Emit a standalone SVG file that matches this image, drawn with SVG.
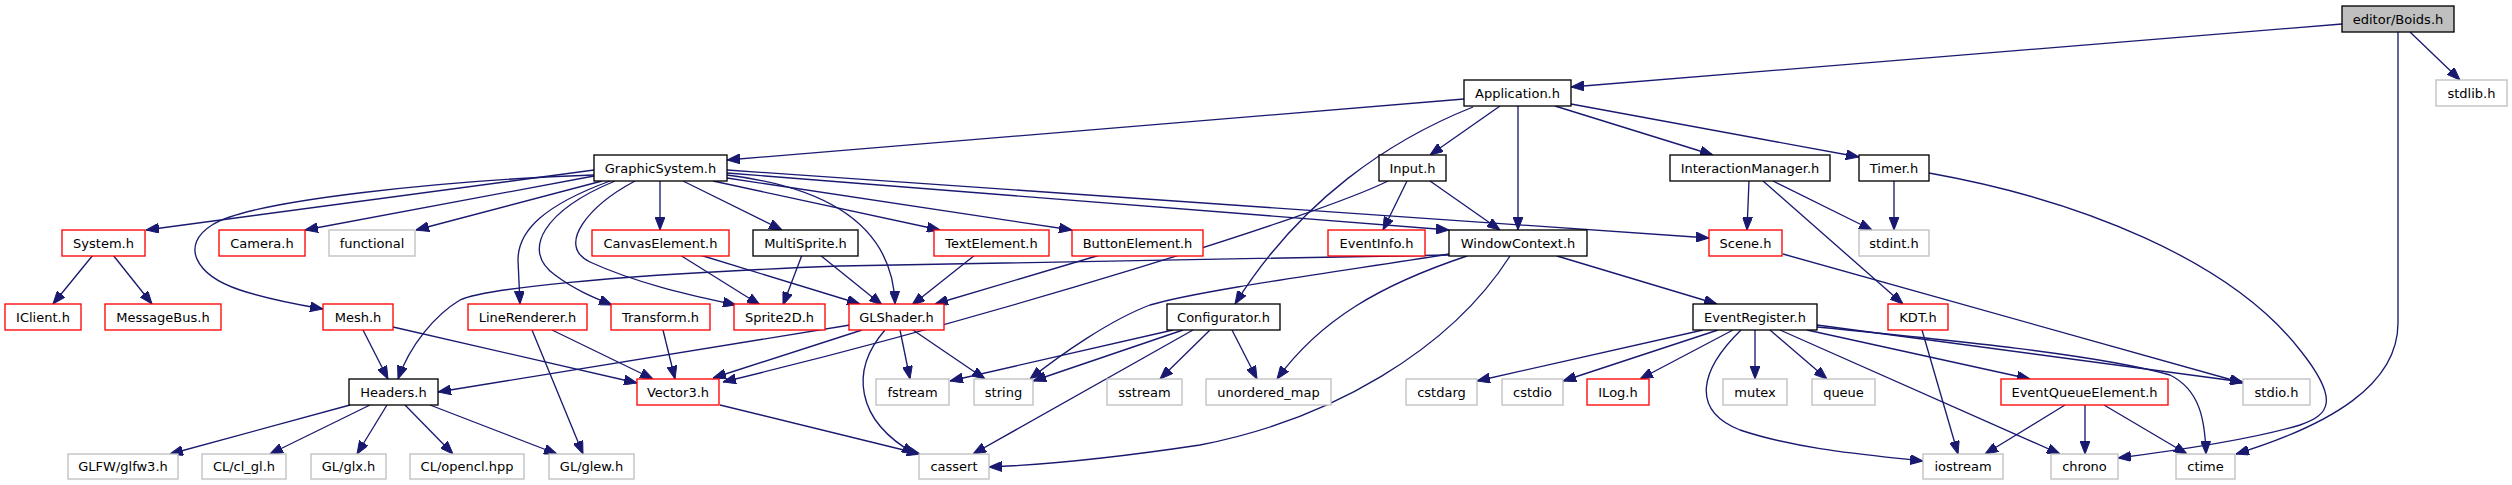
<svg xmlns="http://www.w3.org/2000/svg" width="2512" height="485" viewBox="0 0 2512 485">
<style>
rect{fill:#ffffff;stroke-width:1.33}
.k rect{stroke:#000000}
.r rect{stroke:#ff0000}
.g rect{stroke:#bfbfbf}
.s rect{stroke:#000000;fill:#bfbfbf}
text{font-family:"DejaVu Sans","Liberation Sans",sans-serif;font-size:13px;text-anchor:middle;fill:#000000}
#edges path{fill:none;stroke:#191970;stroke-width:1.33;marker-end:url(#ah)}
</style>
<defs>
<marker id="ah" markerUnits="userSpaceOnUse" viewBox="0 0 13 10" refX="13" refY="5" markerWidth="13" markerHeight="10" orient="auto">
<path d="M0,0 L13,5 L0,10 z" fill="#191970" stroke="#191970" stroke-width="1"/>
</marker>
</defs>
<rect x="0" y="0" width="2512" height="485" style="fill:#ffffff;stroke:none"/>
<g id="edges">
<path d="M2342,24 L1571,87"/>
<path d="M2410,32 L2460,80"/>
<path d="M2398,32 L2398,323 C2398,385 2330,425 2236,454"/>
<path d="M1464,99 L727,160"/>
<path d="M1500,106 L1430,155"/>
<path d="M1518,106 L1518,230"/>
<path d="M1555,106 L1713,155"/>
<path d="M1571,104 L1859,157"/>
<path d="M1473,107 C1390,140 1300,200 1235,304"/>
<path d="M727,170 L1709,238"/>
<path d="M727,173 L1449,230"/>
<path d="M713,181 L940,230"/>
<path d="M727,178 L1072,230"/>
<path d="M727,175 C850,190 893,240 895,304"/>
<path d="M660,181 L660,230"/>
<path d="M683,181 L782,230"/>
<path d="M635,181 C590,205 555,245 590,262 C640,285 700,297 736,305"/>
<path d="M615,181 C545,210 520,250 555,275 C575,290 595,298 612,305"/>
<path d="M610,181 C545,205 518,230 518,260 L520,304"/>
<path d="M594,175 C450,180 250,200 212,225 C180,245 195,275 240,290 C270,300 300,305 323,309"/>
<path d="M594,170 L146,230"/>
<path d="M594,176 L305,230"/>
<path d="M602,181 L416,230"/>
<path d="M93,255 L53,304"/>
<path d="M113,255 L152,304"/>
<path d="M1407,181 L1383,230"/>
<path d="M1430,181 L1500,230"/>
<path d="M1388,181 C1320,215 1000,315 723,382"/>
<path d="M1749,181 L1747,230"/>
<path d="M1763,181 L1903,304"/>
<path d="M1773,181 L1872,230"/>
<path d="M1894,181 L1894,230"/>
<path d="M1929,173 C2080,200 2230,260 2300,350 C2340,400 2330,415 2300,425 C2250,440 2180,450 2118,458"/>
<path d="M1783,254 L2243,383"/>
<path d="M1557,256 L1717,304"/>
<path d="M1467,256 C1380,285 1320,320 1277,379"/>
<path d="M1449,254 C1350,270 1200,290 1150,305 C1110,320 1060,355 1030,379"/>
<path d="M1510,256 C1450,350 1330,420 1200,445 C1100,460 1040,465 989,467"/>
<path d="M1449,255 L840,266 C600,275 480,290 460,300 C435,315 410,345 398,379"/>
<path d="M700,255 L860,304"/>
<path d="M680,255 L760,305"/>
<path d="M802,255 L783,305"/>
<path d="M820,255 L882,305"/>
<path d="M975,255 L912,305"/>
<path d="M1100,255 L935,304"/>
<path d="M363,330 L388,379"/>
<path d="M393,327 L637,383"/>
<path d="M552,330 L653,379"/>
<path d="M532,330 L583,454"/>
<path d="M663,330 L675,379"/>
<path d="M850,325 L438,392"/>
<path d="M862,330 L713,378"/>
<path d="M900,330 L910,379"/>
<path d="M913,330 L985,379"/>
<path d="M885,330 C850,370 855,420 915,454"/>
<path d="M1173,330 L950,381"/>
<path d="M1183,330 L1033,381"/>
<path d="M1210,330 L1160,379"/>
<path d="M1232,330 L1257,379"/>
<path d="M1193,330 L973,454"/>
<path d="M720,405 L920,454"/>
<path d="M350,405 L170,454"/>
<path d="M370,405 L270,454"/>
<path d="M387,405 L357,454"/>
<path d="M405,405 L453,454"/>
<path d="M430,405 L557,454"/>
<path d="M1703,330 L1477,381"/>
<path d="M1718,330 L1563,381"/>
<path d="M1733,330 L1640,379"/>
<path d="M1755,330 L1755,379"/>
<path d="M1770,330 L1827,379"/>
<path d="M1807,330 L2030,379"/>
<path d="M1780,330 L2060,454"/>
<path d="M1741,330 C1700,370 1690,410 1740,430 C1800,450 1870,455 1923,461"/>
<path d="M1817,325 L2243,382"/>
<path d="M1817,327 C1950,340 2100,355 2170,375 C2200,390 2205,420 2206,454"/>
<path d="M1922,330 L1958,454"/>
<path d="M2065,405 L1985,454"/>
<path d="M2085,405 L2085,454"/>
<path d="M2104,405 L2187,454"/>
</g>
<g id="n_boids" class="s"><rect x="2342" y="6" width="112" height="26"/><text x="2398" y="23.5">editor/Boids.h</text></g>
<g id="n_stdlib" class="g"><rect x="2436" y="80" width="71" height="26"/><text x="2471.5" y="97.5">stdlib.h</text></g>
<g id="n_application" class="k"><rect x="1464" y="80" width="107" height="26"/><text x="1517.5" y="97.5">Application.h</text></g>
<g id="n_graphicsystem" class="k"><rect x="594" y="155" width="133" height="26"/><text x="660.5" y="172.5">GraphicSystem.h</text></g>
<g id="n_input" class="k"><rect x="1379" y="155" width="67" height="26"/><text x="1412.5" y="172.5">Input.h</text></g>
<g id="n_interactionmanager" class="k"><rect x="1670" y="155" width="160" height="26"/><text x="1750" y="172.5">InteractionManager.h</text></g>
<g id="n_timer" class="k"><rect x="1859" y="155" width="70" height="26"/><text x="1894" y="172.5">Timer.h</text></g>
<g id="n_system" class="r"><rect x="62" y="230" width="83" height="26"/><text x="103.5" y="247.5">System.h</text></g>
<g id="n_camera" class="r"><rect x="219" y="230" width="86" height="26"/><text x="262" y="247.5">Camera.h</text></g>
<g id="n_functional" class="g"><rect x="329" y="230" width="86" height="26"/><text x="372" y="247.5">functional</text></g>
<g id="n_canvaselement" class="r"><rect x="592" y="230" width="137" height="26"/><text x="660.5" y="247.5">CanvasElement.h</text></g>
<g id="n_multisprite" class="k"><rect x="753" y="230" width="105" height="26"/><text x="805.5" y="247.5">MultiSprite.h</text></g>
<g id="n_textelement" class="r"><rect x="934" y="230" width="115" height="26"/><text x="991.5" y="247.5">TextElement.h</text></g>
<g id="n_buttonelement" class="r"><rect x="1072" y="230" width="131" height="26"/><text x="1137.5" y="247.5">ButtonElement.h</text></g>
<g id="n_eventinfo" class="r"><rect x="1328" y="230" width="97" height="26"/><text x="1376.5" y="247.5">EventInfo.h</text></g>
<g id="n_windowcontext" class="k"><rect x="1449" y="230" width="138" height="26"/><text x="1518" y="247.5">WindowContext.h</text></g>
<g id="n_scene" class="r"><rect x="1709" y="230" width="73" height="26"/><text x="1745.5" y="247.5">Scene.h</text></g>
<g id="n_stdint" class="g"><rect x="1859" y="230" width="70" height="26"/><text x="1894" y="247.5">stdint.h</text></g>
<g id="n_iclient" class="r"><rect x="5" y="304" width="76" height="26"/><text x="43" y="321.5">IClient.h</text></g>
<g id="n_messagebus" class="r"><rect x="105" y="304" width="116" height="26"/><text x="163" y="321.5">MessageBus.h</text></g>
<g id="n_mesh" class="r"><rect x="323" y="304" width="70" height="26"/><text x="358" y="321.5">Mesh.h</text></g>
<g id="n_linerenderer" class="r"><rect x="468" y="304" width="119" height="26"/><text x="527.5" y="321.5">LineRenderer.h</text></g>
<g id="n_transform" class="r"><rect x="611" y="304" width="99" height="26"/><text x="660.5" y="321.5">Transform.h</text></g>
<g id="n_sprite2d" class="r"><rect x="734" y="304" width="91" height="26"/><text x="779.5" y="321.5">Sprite2D.h</text></g>
<g id="n_glshader" class="r"><rect x="849" y="304" width="95" height="26"/><text x="896.5" y="321.5">GLShader.h</text></g>
<g id="n_configurator" class="k"><rect x="1167" y="304" width="113" height="26"/><text x="1223.5" y="321.5">Configurator.h</text></g>
<g id="n_eventregister" class="k"><rect x="1693" y="304" width="124" height="26"/><text x="1755" y="321.5">EventRegister.h</text></g>
<g id="n_kdt" class="r"><rect x="1888" y="304" width="60" height="26"/><text x="1918" y="321.5">KDT.h</text></g>
<g id="n_headers" class="k"><rect x="349" y="379" width="89" height="26"/><text x="393.5" y="396.5">Headers.h</text></g>
<g id="n_vector3" class="r"><rect x="637" y="379" width="82" height="26"/><text x="678" y="396.5">Vector3.h</text></g>
<g id="n_fstream" class="g"><rect x="876" y="379" width="73" height="26"/><text x="912.5" y="396.5">fstream</text></g>
<g id="n_string" class="g"><rect x="974" y="379" width="59" height="26"/><text x="1003.5" y="396.5">string</text></g>
<g id="n_sstream" class="g"><rect x="1107" y="379" width="75" height="26"/><text x="1144.5" y="396.5">sstream</text></g>
<g id="n_unordered_map" class="g"><rect x="1206" y="379" width="125" height="26"/><text x="1268.5" y="396.5">unordered_map</text></g>
<g id="n_cstdarg" class="g"><rect x="1406" y="379" width="71" height="26"/><text x="1441.5" y="396.5">cstdarg</text></g>
<g id="n_cstdio" class="g"><rect x="1502" y="379" width="61" height="26"/><text x="1532.5" y="396.5">cstdio</text></g>
<g id="n_ilog" class="r"><rect x="1587" y="379" width="62" height="26"/><text x="1618" y="396.5">ILog.h</text></g>
<g id="n_mutex" class="g"><rect x="1723" y="379" width="64" height="26"/><text x="1755" y="396.5">mutex</text></g>
<g id="n_queue" class="g"><rect x="1812" y="379" width="63" height="26"/><text x="1843.5" y="396.5">queue</text></g>
<g id="n_eventqueueelement" class="r"><rect x="2001" y="379" width="167" height="26"/><text x="2084.5" y="396.5">EventQueueElement.h</text></g>
<g id="n_stdio" class="g"><rect x="2243" y="379" width="67" height="26"/><text x="2276.5" y="396.5">stdio.h</text></g>
<g id="n_glfw" class="g"><rect x="68" y="454" width="110" height="25"/><text x="123" y="471">GLFW/glfw3.h</text></g>
<g id="n_clgl" class="g"><rect x="202" y="454" width="84" height="25"/><text x="244" y="471">CL/cl_gl.h</text></g>
<g id="n_glx" class="g"><rect x="311" y="454" width="75" height="25"/><text x="348.5" y="471">GL/glx.h</text></g>
<g id="n_opencl" class="g"><rect x="410" y="454" width="114" height="25"/><text x="467" y="471">CL/opencl.hpp</text></g>
<g id="n_glew" class="g"><rect x="549" y="454" width="85" height="25"/><text x="591.5" y="471">GL/glew.h</text></g>
<g id="n_cassert" class="g"><rect x="919" y="454" width="70" height="25"/><text x="954" y="471">cassert</text></g>
<g id="n_iostream" class="g"><rect x="1923" y="454" width="80" height="25"/><text x="1963" y="471">iostream</text></g>
<g id="n_chrono" class="g"><rect x="2051" y="454" width="67" height="25"/><text x="2084.5" y="471">chrono</text></g>
<g id="n_ctime" class="g"><rect x="2176" y="454" width="59" height="25"/><text x="2205.5" y="471">ctime</text></g>
</svg>
